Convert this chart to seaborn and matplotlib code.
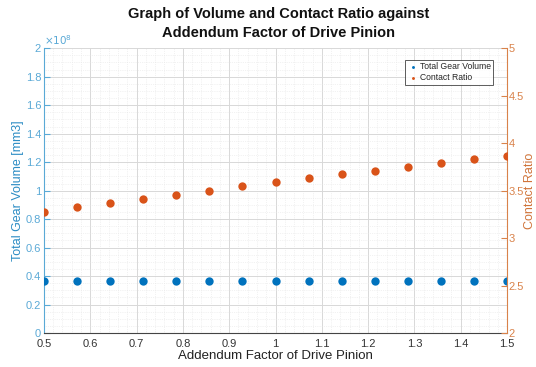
import numpy as np
import pandas as pd
import matplotlib
matplotlib.use("Agg")
import matplotlib.pyplot as plt
import seaborn as sns
from matplotlib.ticker import MultipleLocator

addendum = [0.5, 0.5714, 0.6429, 0.7143, 0.7857, 0.8571, 0.9286, 1.0,
            1.0714, 1.1429, 1.2143, 1.2857, 1.3571, 1.4286, 1.5]
volume = [3.65e7] * 15
contact_ratio = [3.277, 3.323, 3.368, 3.414, 3.456, 3.498, 3.544, 3.586,
                 3.628, 3.671, 3.708, 3.751, 3.789, 3.828, 3.866]
x_ticks = [0.5, 0.6, 0.7, 0.8, 0.9, 1.0, 1.1, 1.2, 1.3, 1.4, 1.5]
x_tick_labels = ["0.5", "0.6", "0.7", "0.8", "0.9", "1", "1.1", "1.2", "1.3", "1.4", "1.5"]
left_ticks = [0, 0.2e8, 0.4e8, 0.6e8, 0.8e8, 1.0e8, 1.2e8, 1.4e8, 1.6e8, 1.8e8, 2.0e8]
left_tick_labels = ["0", "0.2", "0.4", "0.6", "0.8", "1", "1.2", "1.4", "1.6", "1.8", "2"]
right_ticks = [2, 2.5, 3, 3.5, 4, 4.5, 5]
right_tick_labels = ["2", "2.5", "3", "3.5", "4", "4.5", "5"]

df = pd.DataFrame({"addendum": addendum, "volume": volume, "cr": contact_ratio})

sns.set_style("white")
plt.rcParams["font.family"] = ["Liberation Sans", "DejaVu Sans"]

BLUE = (0.0, 0.447, 0.741)
ORANGE = (0.85, 0.325, 0.098)
LBLUE = "#5aa9d6"
LORANGE = "#d9824a"

fig = plt.figure(figsize=(5.36, 3.67), dpi=100)
ax = fig.add_axes([0.082, 0.0926, 0.864, 0.776])
ax2 = ax.twinx()

sns.scatterplot(data=df, x="addendum", y="volume", ax=ax, color=BLUE, s=36,
                edgecolor=BLUE, linewidth=0, label="Total Gear Volume", legend=False, zorder=3)
sns.scatterplot(data=df, x="addendum", y="cr", ax=ax2, color=ORANGE, s=36,
                edgecolor=ORANGE, linewidth=0, label="Contact Ratio", legend=False, zorder=3)

ax.set_xlim(0.5, 1.5)
ax.set_ylim(0, 2e8)
ax2.set_ylim(2, 5)

ax.set_xticks(x_ticks)
ax.set_xticklabels(x_tick_labels)
ax.set_yticks(left_ticks)
ax.set_yticklabels(left_tick_labels)
ax2.set_yticks(right_ticks)
ax2.set_yticklabels(right_tick_labels)

ax.xaxis.set_minor_locator(MultipleLocator(0.02))
ax.yaxis.set_minor_locator(MultipleLocator(0.05e8))

ax.grid(True, which="major", color="#d8d8d8", linewidth=0.7)
ax.grid(True, which="minor", color="#e6e6e6", linewidth=0.5, linestyle=":")
ax.set_axisbelow(True)
ax2.grid(False)

ax.tick_params(axis="x", direction="in", length=4, labelsize=8, colors="#333333", pad=4)
ax.tick_params(axis="x", which="minor", length=0)
ax.tick_params(axis="y", direction="in", length=4, labelsize=8, colors=LBLUE, pad=2)
ax.tick_params(axis="y", which="minor", length=0)
ax2.tick_params(axis="y", direction="in", length=4, labelsize=8, colors=LORANGE, pad=1)

for a in (ax, ax2):
    a.spines["top"].set_visible(False)
ax.spines["bottom"].set_color("#444444")
ax.spines["left"].set_color(LBLUE)
ax2.spines["left"].set_visible(False)
ax2.spines["bottom"].set_visible(False)
ax2.spines["right"].set_color(LORANGE)
ax.spines["right"].set_visible(False)

ax.set_xlabel("Addendum Factor of Drive Pinion", fontsize=9.5, color="#222222", labelpad=1)
ax.set_ylabel("Total Gear Volume [mm3]", fontsize=9, color="#2b8cc4", labelpad=1)
ax2.set_ylabel("Contact Ratio", fontsize=9, color="#d0743a", labelpad=0)

ax.text(0.0, 1.005, r"$\times10^{8}$", transform=ax.transAxes, fontsize=7.5,
        color=LBLUE, ha="left", va="bottom")

fig.suptitle("Graph of Volume and Contact Ratio against\nAddendum Factor of Drive Pinion",
             fontsize=10.5, fontweight="bold", x=0.52, y=0.98, linespacing=1.45,
             color="#111111")

h1, l1 = ax.get_legend_handles_labels()
h2, l2 = ax2.get_legend_handles_labels()
leg = ax2.legend(h1 + h2, l1 + l2, loc="upper right", bbox_to_anchor=(0.98, 0.975),
                 fontsize=6.2, frameon=True, fancybox=False, markerscale=0.35,
                 handletextpad=0.2, borderpad=0.3, labelspacing=0.2, handlelength=1.2)
leg.get_frame().set_edgecolor("#333333")
leg.get_frame().set_linewidth(0.7)

fig.savefig("out.png", dpi=100)
